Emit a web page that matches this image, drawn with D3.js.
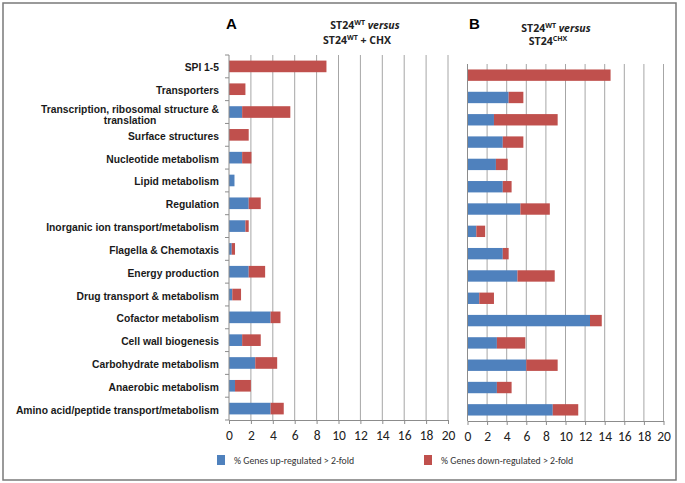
<!DOCTYPE html>
<html><head><meta charset="utf-8">
<script src="https://cdn.jsdelivr.net/npm/d3@7"></script>
<style>body{margin:0;background:#fff}svg{display:block}</style>
</head><body><svg id="c" width="685" height="483"></svg>
<script>
const categories = ["SPI 1-5","Transporters","Transcription, ribosomal structure & translation","Surface structures","Nucleotide metabolism","Lipid metabolism","Regulation","Inorganic ion transport/metabolism","Flagella & Chemotaxis","Energy production","Drug transport & metabolism","Cofactor metabolism","Cell wall biogenesis","Carbohydrate metabolism","Anaerobic metabolism","Amino acid/peptide transport/metabolism"];
const upA   = [0, 0, 1.2, 0, 1.2, 0.5, 1.8, 1.5, 0.25, 1.8, 0.3, 3.8, 1.2, 2.4, 0.55, 3.8];
const downA = [8.9, 1.5, 4.4, 1.8, 0.85, 0, 1.1, 0.3, 0.3, 1.5, 0.8, 0.9, 1.7, 2.0, 1.45, 1.2];
const upB   = [0, 4.2, 2.7, 3.6, 2.9, 3.6, 5.4, 0.9, 3.6, 5.1, 1.2, 12.5, 3.0, 6.0, 3.0, 8.7];
const downB = [14.6, 1.5, 6.5, 2.1, 1.2, 0.9, 3.0, 0.9, 0.6, 3.8, 1.5, 1.2, 2.9, 3.2, 1.5, 2.6];
const tickValues = [0,2,4,6,8,10,12,14,16,18,20];
const seriesNames = ["% Genes up-regulated > 2-fold","% Genes down-regulated > 2-fold"];
const colors = ["#4F81BD","#C0504D"];

const svg = d3.select("#c");
svg.append("rect").attr("x",3).attr("y",3).attr("width",673).attr("height",477)
  .attr("fill","#fff").attr("stroke","#7a7a7a").attr("stroke-width",1.5);

function panel(up, down, L, showLabels){
  const x = d3.scaleLinear().domain([0,20]).range([L.x0, L.x1]);
  const y = d3.scaleBand().domain(categories).range([L.y0, L.y1]).padding(0);
  const g = svg.append("g");
  g.selectAll("line.grid").data(tickValues.slice(1)).join("line")
    .attr("x1",d=>x(d)).attr("x2",d=>x(d)).attr("y1",L.y0).attr("y2",L.y1)
    .attr("stroke","#a6a6a6").attr("stroke-width",1);
  const data = categories.map((c,i)=>({c, up:up[i], down:down[i]}));
  const stack = d3.stack().keys(["up","down"])(data);
  const bw = y.bandwidth();
  stack.forEach((s,k)=>{
    g.selectAll(null).data(s).join("rect")
      .attr("x",d=>x(d[0])).attr("width",d=>Math.max(0,x(d[1])-x(d[0])))
      .attr("y",d=>y(d.data.c)+bw*0.245).attr("height",bw*0.51)
      .attr("fill",colors[k]);
  });
  g.append("line").attr("x1",x(0)).attr("x2",x(0)).attr("y1",L.y0).attr("y2",L.y1)
    .attr("stroke","#8c8c8c").attr("stroke-width",1);
  if(showLabels){
    const bounds = categories.map(c=>y(c)).concat([L.y1]);
    g.selectAll(null).data(bounds).join("line")
      .attr("x1",x(0)-4).attr("x2",x(0)).attr("y1",d=>d).attr("y2",d=>d)
      .attr("stroke","#8c8c8c");
    categories.forEach(c=>{
      const cy = y(c)+bw/2+1.5;
      const lines = c.startsWith("Transcription") ? ["Transcription, ribosomal structure &","translation"] : [c];
      const t = g.append("text").attr("font-family","Liberation Sans, Arial, sans-serif")
        .attr("font-weight","bold").attr("font-size","10.3px").attr("fill","#1a1a1a");
      if(lines.length===1){
        t.attr("x",219).attr("y",cy).attr("text-anchor","end").attr("dominant-baseline","central").text(c);
      } else {
        t.attr("text-anchor","middle").attr("dominant-baseline","central");
        const t1 = t.append("tspan").text(lines[0]).attr("y",cy-4.5);
        const w = t.node().getComputedTextLength();
        t1.attr("x",219-w/2);
        t.append("tspan").text(lines[1]).attr("x",219-w/2).attr("y",cy+6);
      }
    });
  }
  const ax = g.append("g").attr("transform",`translate(0,${L.y1})`)
    .call(d3.axisBottom(x).tickValues(tickValues).tickSize(4).tickPadding(6).tickSizeOuter(0));
  ax.select(".domain").attr("stroke","#8c8c8c");
  ax.selectAll(".tick line").attr("stroke","#8c8c8c");
  ax.selectAll("text").attr("font-family","Carlito, Lato, Liberation Sans, sans-serif")
    .attr("font-size","13.5px").attr("fill","#222");
}

panel(upA, downA, {x0:229, x1:448, y0:55, y1:420}, true);
panel(upB, downB, {x0:467.5, x1:663.5, y0:64, y1:421}, false);

const tf = "Open Sans, Lato, Liberation Sans, sans-serif";
svg.append("text").attr("x",226).attr("y",29).attr("font-family","Liberation Sans, Arial, sans-serif")
  .attr("font-weight","bold").attr("font-size","15px").text("A");
svg.append("text").attr("x",469).attr("y",29).attr("font-family","Liberation Sans, Arial, sans-serif")
  .attr("font-weight","bold").attr("font-size","15px").text("B");

function title(cx, cy, parts){
  const t = svg.append("text").attr("x",cx).attr("y",cy).attr("text-anchor","middle")
    .attr("font-family",tf).attr("font-weight","bold").attr("font-size","10.5px").attr("fill","#222");
  parts.forEach(p=>{
    const s = t.append("tspan").text(p.t);
    if(p.sup) s.attr("font-size","7px").attr("dy","-4");
    if(p.back) s.attr("dy","4");
    if(p.it) s.attr("font-style","italic");
  });
}
title(365, 29, [{t:"ST24"},{t:"WT",sup:1},{t:" versus",it:1,back:1}]);
title(357, 43.5, [{t:"ST24"},{t:"WT",sup:1},{t:" + CHX",back:1}]);
title(556, 32, [{t:"ST24"},{t:"WT",sup:1},{t:" versus",it:1,back:1}]);
title(548, 45, [{t:"ST24"},{t:"CHX",sup:1}]);

const lg = svg.append("g");
[[217,234],[424,441]].forEach((p,i)=>{
  lg.append("rect").attr("x",p[0]).attr("y",455).attr("width",8).attr("height",10).attr("fill",colors[i]);
  lg.append("text").attr("x",p[1]).attr("y",460.5).attr("dominant-baseline","central")
    .attr("font-family","Carlito, Lato, Liberation Sans, sans-serif").attr("font-size","9.8px").attr("fill","#333")
    .text(seriesNames[i]);
});
</script></body></html>
